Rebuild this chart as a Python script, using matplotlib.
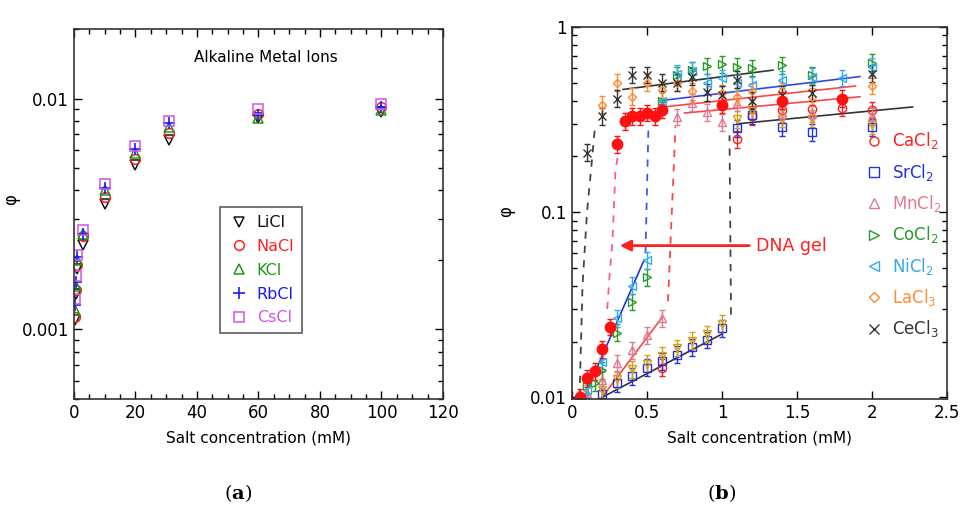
import numpy as np
import matplotlib
matplotlib.use('Agg')
import matplotlib.pyplot as plt
from matplotlib.ticker import MultipleLocator, FuncFormatter, NullFormatter
from matplotlib.lines import Line2D

plt.rcParams['font.family'] = ['DejaVu Sans']
plt.rcParams['mathtext.fontset'] = 'dejavusans'

# ---- panel (a) data: alkaline metal ions ----
alkX = [0.25, 0.5, 1.0, 3, 10, 20, 31, 60, 100]
liCl = [0.0011, 0.00143, 0.00183, 0.00232, 0.00349, 0.00516, 0.00663, 0.00826, 0.00877]
naCl = [0.00113, 0.00148, 0.0019, 0.00255, 0.00375, 0.00548, 0.0071, 0.0086, 0.0092]
kCl = [0.00122, 0.00155, 0.0020, 0.00258, 0.0040, 0.0058, 0.0075, 0.0082, 0.0089]
rbCl = [0.00128, 0.0016, 0.00205, 0.0026, 0.0041, 0.00606, 0.0078, 0.0085, 0.0092]
csCl = [0.00135, 0.0017, 0.0021, 0.0027, 0.00427, 0.0062, 0.0080, 0.0090, 0.0095]

# ---- panel (b) data: multivalent ions ----
gelX = [0.05, 0.1, 0.15, 0.2, 0.25, 0.3, 0.35, 0.4, 0.45, 0.5, 0.55, 0.6, 1.0, 1.4, 1.8]
gelY = [0.0100, 0.0127, 0.0138, 0.0182, 0.024, 0.233, 0.31, 0.33, 0.33, 0.343, 0.33, 0.356, 0.379, 0.40, 0.41]

caX = [0.6, 1.1, 1.2, 1.4, 1.6, 1.8, 2.0]
caY = [0.0145, 0.248, 0.33, 0.356, 0.36, 0.365, 0.356]

srX = [0.2, 0.3, 0.4, 0.5, 0.6, 0.7, 0.8, 0.9, 1.0, 1.1, 1.2, 1.4, 1.6, 2.0]
srY = [0.0104, 0.0119, 0.013, 0.0145, 0.0157, 0.017, 0.0186, 0.0204, 0.0236, 0.284, 0.334, 0.288, 0.27, 0.288]
goldY = [0.011, 0.0125, 0.0142, 0.0152, 0.0168, 0.0185, 0.0202, 0.022, 0.025, 0.318, 0.35, 0.32, 0.32, 0.295]

mnX = [0.1, 0.2, 0.3, 0.4, 0.5, 0.6, 0.7, 0.8, 0.9, 1.0, 1.1, 1.4, 1.6, 2.0]
mnY = [0.0105, 0.0124, 0.0153, 0.018, 0.0216, 0.0267, 0.327, 0.39, 0.347, 0.306, 0.389, 0.34, 0.34, 0.33]

coX = [0.1, 0.15, 0.2, 0.3, 0.4, 0.5, 0.6, 0.7, 0.8, 0.9, 1.0, 1.1, 1.2, 1.4, 1.6, 2.0]
coY = [0.0115, 0.012, 0.014, 0.0224, 0.0327, 0.0446, 0.40, 0.55, 0.586, 0.615, 0.63, 0.61, 0.6, 0.62, 0.55, 0.64]

niX = [0.1, 0.2, 0.3, 0.4, 0.5, 0.6, 0.7, 0.8, 0.9, 1.0, 1.1, 1.2, 1.4, 1.6, 1.8, 2.0]
niY = [0.011, 0.0155, 0.0267, 0.04, 0.055, 0.40, 0.56, 0.58, 0.50, 0.53, 0.50, 0.486, 0.52, 0.54, 0.53, 0.61]

laX = [0.2, 0.3, 0.4, 0.5, 0.6, 0.7, 0.8, 1.0, 1.1, 1.2, 1.4, 1.6, 2.0]
laY = [0.38, 0.50, 0.42, 0.50, 0.456, 0.50, 0.45, 0.44, 0.42, 0.45, 0.45, 0.42, 0.48]

ceX = [0.1, 0.2, 0.3, 0.4, 0.5, 0.6, 0.7, 0.8, 0.9, 1.0, 1.1, 1.2, 1.4, 1.6, 2.0]
ceY = [0.21, 0.33, 0.41, 0.55, 0.55, 0.50, 0.50, 0.54, 0.445, 0.43, 0.52, 0.40, 0.43, 0.44, 0.56]

# fitted lines (solid) and transitions (dashed)
fitLines = [
    ([0.08, 0.48], [0.01, 0.055], '#2233dd'),
    ([0.2, 0.6], [0.01, 0.027], '#ff4444'),
    ([0.2, 1.0], [0.01, 0.022], '#333333'),
    ([0.34, 1.34], [0.46, 0.585], '#333333'),
    ([0.59, 1.92], [0.40, 0.54], '#3344ee'),
    ([0.61, 1.89], [0.37, 0.48], '#ff4444'),
    ([0.75, 1.92], [0.343, 0.42], '#ff4444'),
    ([1.1, 2.27], [0.30, 0.37], '#333333'),
]
dashLines = [
    ([0.05, 0.07, 0.1, 0.13, 0.155], [0.01, 0.04, 0.1, 0.18, 0.3], '#444444'),
    ([0.235, 0.25, 0.27, 0.29, 0.31], [0.03, 0.045, 0.07, 0.17, 0.21], '#ff55a0'),
    ([0.49, 0.51], [0.06, 0.30], '#4455ee'),
    ([0.64, 0.69], [0.033, 0.29], '#ff4444'),
    ([1.06, 1.05], [0.028, 0.26], '#444444'),
]
relErr = 0.11


def styleAxes(ax):
    ax.tick_params(which='both', direction='in', top=True, right=True, labelsize=12)
    ax.tick_params(which='major', length=6, width=1)
    ax.tick_params(which='minor', length=3.5, width=1)
    for s in ax.spines.values():
        s.set_linewidth(1.2)
        s.set_color('#333333')


fig = plt.figure(figsize=(9.62, 5.15), dpi=100)

# ---------------- panel (a) ----------------
axA = fig.add_axes([0.0769, 0.2252, 0.3836, 0.7185])
alkSeries = [
    ('LiCl', liCl, 'v', '#111111'),
    ('NaCl', naCl, 'o', '#ff2020'),
    ('KCl', kCl, '^', '#1a9a1a'),
    ('RbCl', rbCl, '+', '#1a1aff'),
    ('CsCl', csCl, 's', '#cc55ee'),
]
for name, vals, mk, col in alkSeries:
    if mk == '+':
        axA.plot(alkX, vals, linestyle='none', marker=mk, color=col, markersize=9, mew=1.2, label=name)
    else:
        axA.plot(alkX, vals, linestyle='none', marker=mk, markerfacecolor='none',
                 markeredgecolor=col, markersize=7, mew=1.1, label=name)
axA.set_yscale('log')
axA.set_xlim(0, 120)
axA.set_ylim(0.0005, 0.02)
axA.xaxis.set_major_locator(MultipleLocator(20))
axA.xaxis.set_minor_locator(MultipleLocator(5))
axA.yaxis.set_major_formatter(FuncFormatter(lambda v, p: '%g' % v))
axA.yaxis.set_minor_formatter(NullFormatter())
styleAxes(axA)
axA.set_xlabel('Salt concentration (mM)', fontsize=11, labelpad=6)
axA.set_ylabel('φ', fontsize=12)
axA.yaxis.set_label_coords(-0.146, 0.54)
axA.text(0.52, 0.924, 'Alkaline Metal Ions', transform=axA.transAxes, ha='center', va='center', fontsize=11)
legA = axA.legend(loc='upper left', bbox_to_anchor=(0.374, 0.54), fontsize=11.5, frameon=True,
                  fancybox=False, edgecolor='#333333', handletextpad=0.4, labelspacing=0.55,
                  borderpad=0.5, handlelength=1.4, labelcolor='markeredgecolor')
legA.get_frame().set_linewidth(1.2)

# ---------------- panel (b) ----------------
axB = fig.add_axes([0.5946, 0.2252, 0.3898, 0.7224])
for xs, ys, col in dashLines:
    axB.plot(xs, ys, color=col, linestyle=(0, (4, 4)), linewidth=1.3)
for xs, ys, col in fitLines:
    axB.plot(xs, ys, color=col, linewidth=1.2)

multiSeries = [
    ('CaCl$_2$', caX, caY, 'o', '#ff2020'),
    ('SrCl$_2$', srX, srY, 's', '#2233dd'),
    (None, srX, goldY, 'v', '#d4a017'),
    ('MnCl$_2$', mnX, mnY, '^', '#e07a90'),
    ('CoCl$_2$', coX, coY, '>', '#2a9a2a'),
    ('NiCl$_2$', niX, niY, '<', '#33aaee'),
    ('LaCl$_3$', laX, laY, 'D', '#ff8a30'),
    ('CeCl$_3$', ceX, ceY, 'x', '#333333'),
]
handles = []
for name, xs, ys, mk, col in multiSeries:
    ys = np.array(ys)
    err = [ys - ys / (1 + relErr), ys * relErr]
    ms = 4.5 if mk == 'D' else 6
    axB.errorbar(xs, ys, yerr=err, linestyle='none', marker=mk, markerfacecolor='none',
                 markeredgecolor=col, ecolor=col, markersize=ms, mew=1.0, elinewidth=1, capsize=2.5)
    if name:
        handles.append(Line2D([], [], linestyle='none', marker=mk, markerfacecolor='none',
                              markeredgecolor=col, markersize=ms + 0.5, mew=1.0, label=name))

gelY_arr = np.array(gelY)
axB.errorbar(gelX, gelY_arr, yerr=[gelY_arr - gelY_arr / (1 + relErr), gelY_arr * relErr],
             linestyle='none', marker='o', color='#ff1010', markersize=7.5, elinewidth=1, capsize=2.5)

axB.annotate('', xy=(0.3, 0.066), xytext=(1.2, 0.066),
             arrowprops=dict(arrowstyle='-|>', color='#ff2020', lw=2, mutation_scale=16))
axB.text(1.23, 0.066, 'DNA gel', color='#ff2020', fontsize=12.5, va='center', ha='left')

axB.set_yscale('log')
axB.set_xlim(0, 2.5)
axB.set_ylim(0.0098, 1.0)
axB.xaxis.set_major_locator(MultipleLocator(0.5))
axB.xaxis.set_major_formatter(FuncFormatter(lambda v, p: '%g' % v))
axB.yaxis.set_major_formatter(FuncFormatter(lambda v, p: '%g' % v))
axB.yaxis.set_minor_formatter(NullFormatter())
styleAxes(axB)
axB.set_xlabel('Salt concentration (mM)', fontsize=11, labelpad=6)
axB.set_ylabel('φ', fontsize=12)
axB.yaxis.set_label_coords(-0.152, 0.503)
legB = axB.legend(handles=handles, loc='upper left', bbox_to_anchor=(0.76, 0.74), fontsize=12,
                  frameon=False, handletextpad=0.5, labelspacing=0.62, handlelength=1.2,
                  labelcolor='markeredgecolor', borderaxespad=0)

# panel labels
fig.text(238 / 962, 1 - 493 / 515, r'($\mathbf{a}$)', ha='center', va='center', fontsize=14,
         family='DejaVu Serif', math_fontfamily='dejavuserif')
fig.text(722 / 962, 1 - 493 / 515, r'($\mathbf{b}$)', ha='center', va='center', fontsize=14,
         family='DejaVu Serif', math_fontfamily='dejavuserif')

fig.savefig('out.png', dpi=100)
